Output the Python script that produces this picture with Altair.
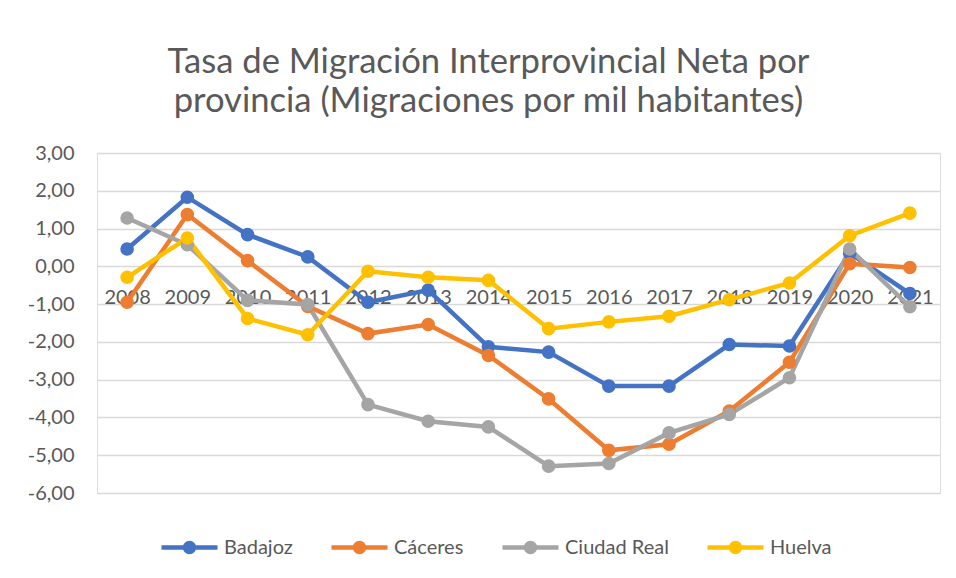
import altair as alt
import pandas as pd

years = [str(y) for y in range(2008, 2022)]
series_names = ["Badajoz", "Cáceres", "Ciudad Real", "Huelva"]
colors = ["#4472C4", "#ED7D31", "#A5A5A5", "#FFC000"]

badajoz = [0.46, 1.83, 0.84, 0.25, -0.95, -0.63, -2.13, -2.27, -3.17, -3.17, -2.07, -2.11, 0.35, -0.72]
caceres = [-0.95, 1.37, 0.15, -1.06, -1.78, -1.54, -2.36, -3.51, -4.87, -4.71, -3.83, -2.54, 0.07, -0.03]
ciudad_real = [1.28, 0.57, -0.90, -1.01, -3.66, -4.10, -4.25, -5.29, -5.22, -4.41, -3.92, -2.95, 0.46, -1.07]
huelva = [-0.29, 0.75, -1.38, -1.81, -0.13, -0.29, -0.37, -1.65, -1.47, -1.32, -0.88, -0.44, 0.81, 1.41]

y_ticks = [3, 2, 1, 0, -1, -2, -3, -4, -5, -6]

rows = []
for name, vals in zip(series_names, [badajoz, caceres, ciudad_real, huelva]):
    for yr, v in zip(years, vals):
        rows.append({"Año": yr, "Provincia": name, "Valor": v})
df = pd.DataFrame(rows)

FONT = "Lato"
GRAY = "#595959"

legend_path = "M-1,0L1,0M-0.16,0A0.16,0.16,0,1,1,0.16,0A0.16,0.16,0,1,1,-0.16,0Z"

color = alt.Color(
    "Provincia:N",
    scale=alt.Scale(domain=series_names, range=colors),
    sort=series_names,
    legend=alt.Legend(
        title=None,
        orient="none",
        direction="horizontal",
        legendX=62,
        legendY=364,
        symbolType=legend_path,
        symbolSize=3136,
        symbolStrokeWidth=4.5,
        labelFont=FONT,
        labelFontSize=20,
        labelColor=GRAY,
        labelOffset=4,
        columnPadding=29,
    ),
)

x = alt.X(
    "Año:O",
    sort=years,
    title=None,
    axis=alt.Axis(
        labelAngle=0,
        domain=False,
        ticks=False,
        grid=False,
        offset=-226,
        labelPadding=20,
        labelFont=FONT,
        labelFontSize=20,
        labelColor=GRAY,
    ),
)
y = alt.Y(
    "Valor:Q",
    title=None,
    scale=alt.Scale(domain=[-6, 3], nice=False),
    axis=alt.Axis(
        values=y_ticks,
        domain=False,
        ticks=False,
        grid=True,
        gridColor="#D9D9D9",
        gridWidth=1.5,
        labelPadding=23,
        labelFont=FONT,
        labelFontSize=20,
        labelColor=GRAY,
        labelExpr="(datum.value < 0 ? '-' : '') + replace(format(abs(datum.value), '.2f'), '.', ',')",
    ),
)

base = alt.Chart(df)
lines = base.mark_line(strokeWidth=4.5).encode(x=x, y=y, color=color)
points = base.mark_point(filled=True, size=135, opacity=1).encode(
    x=x, y=y, color=color, stroke=alt.Stroke("Provincia:N", scale=alt.Scale(domain=series_names, range=colors), legend=None)
)

chart = (
    alt.layer(lines, points)
    .properties(
        width=843,
        height=340,
        padding={"left": 89, "top": 145, "right": 8, "bottom": 77},
        autosize=alt.AutoSizeParams(type="none"),
        title=alt.TitleParams(
            text=["Tasa de Migración Interprovincial Neta por", "provincia (Migraciones por mil habitantes)"],
            font=FONT,
            fontSize=34.6,
            fontWeight="normal",
            color=GRAY,
            anchor="middle",
            baseline="alphabetic",
            lineHeight=39,
            offset=1,
            dx=-30,
            dy=5,
        ),
    )
    .configure_view(stroke=None)
    .configure(background="white")
)

chart.save("out.html", embed_options={"renderer": "svg", "actions": False})
